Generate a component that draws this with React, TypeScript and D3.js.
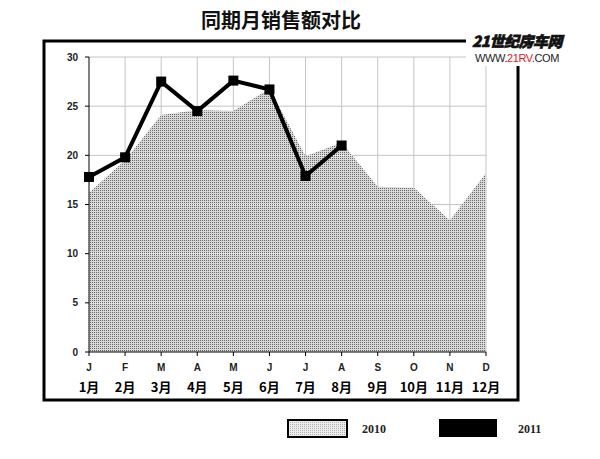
import React from "react";
import * as d3 from "d3";

const monthLetters = ["J", "F", "M", "A", "M", "J", "J", "A", "S", "O", "N", "D"];
const monthLabels = ["1月", "2月", "3月", "4月", "5月", "6月", "7月", "8月", "9月", "10月", "11月", "12月"];
const sales2010 = [16.2, 19.5, 24.1, 24.6, 24.5, 26.8, 19.9, 21.3, 16.8, 16.7, 13.4, 18.2];
const sales2011 = [17.8, 19.8, 27.5, 24.5, 27.6, 26.7, 17.9, 21.0];
const yTicks = [0, 5, 10, 15, 20, 25, 30];

const W = 600;
const H = 459;
const plot = { left: 89, right: 486, top: 57, bottom: 352 };

const App = () => {
  const x = d3.scaleLinear().domain([0, 11]).range([plot.left, plot.right]);
  const y = d3.scaleLinear().domain([0, 30]).range([plot.bottom, plot.top]);

  const areaPath = d3
    .area<number>()
    .x((_, i) => x(i))
    .y0(y(0))
    .y1((d) => y(d))(sales2010) as string;

  const linePath = d3
    .line<number>()
    .x((_, i) => x(i))
    .y((d) => y(d))(sales2011) as string;

  const sans = "Arial, 'Liberation Sans', sans-serif";
  const cjk = "'Noto Sans CJK SC', sans-serif";

  return (
    <svg
      width={W}
      height={H}
      style={{ position: "absolute", left: 0, top: 0, background: "#fff" }}
    >
      <defs>
        <pattern id="dots" width="2" height="2" patternUnits="userSpaceOnUse">
          <rect width="2" height="2" fill="#d8d8d8" />
          <rect width="1" height="1" fill="#6a6a6a" />
        </pattern>
        <pattern id="dotsLight" width="2" height="2" patternUnits="userSpaceOnUse">
          <rect width="2" height="2" fill="#ececec" />
          <rect width="1" height="1" fill="#b0b0b0" />
        </pattern>
        <clipPath id="areaClip">
          <path d={areaPath} />
        </clipPath>
      </defs>

      {/* title */}
      <text
        x={281}
        y={28}
        textAnchor="middle"
        fontFamily={cjk}
        fontWeight="bold"
        fontSize={20}
        fill="#111"
      >
        同期月销售额对比
      </text>

      {/* frame */}
      <rect x={44} y={41} width={474} height={359} fill="none" stroke="#000" strokeWidth={3} />

      {/* grid */}
      <g stroke="#c4c4c4" strokeWidth={1}>
        {yTicks.slice(1).map((t) => (
          <line key={"h" + t} x1={plot.left} x2={plot.right} y1={y(t)} y2={y(t)} />
        ))}
        {monthLetters.map((_, i) =>
          i === 0 ? null : (
            <line key={"v" + i} x1={x(i)} x2={x(i)} y1={plot.top} y2={plot.bottom} />
          )
        )}
      </g>

      {/* 2010 area */}
      <path d={areaPath} fill="url(#dots)" />
      <g clipPath="url(#areaClip)" stroke="#f4f4f4" strokeWidth={1} strokeDasharray="1,1">
        {yTicks.slice(1).map((t) => (
          <line key={"hw" + t} x1={plot.left} x2={plot.right} y1={y(t)} y2={y(t)} />
        ))}
      </g>

      {/* axes */}
      <g stroke="#000" strokeWidth={1}>
        <line x1={plot.left} x2={plot.left} y1={plot.top} y2={plot.bottom} />
        <line x1={plot.left} x2={plot.right} y1={plot.bottom} y2={plot.bottom} />
        {yTicks.map((t) => (
          <line key={"yt" + t} x1={plot.left - 4} x2={plot.left} y1={y(t)} y2={y(t)} />
        ))}
        {monthLetters.map((_, i) => (
          <line key={"xt" + i} x1={x(i)} x2={x(i)} y1={plot.bottom} y2={plot.bottom + 4} />
        ))}
      </g>
      {yTicks.map((t) => (
        <text
          key={"yl" + t}
          x={78}
          y={y(t) + 3.5}
          textAnchor="end"
          fontFamily={sans}
          fontWeight="bold"
          fontSize={10}
          fill="#222"
        >
          {t}
        </text>
      ))}
      {monthLetters.map((m, i) => (
        <text
          key={"ml" + i}
          x={x(i)}
          y={371}
          textAnchor="middle"
          fontFamily={sans}
          fontWeight="bold"
          fontSize={10}
          fill="#222"
        >
          {m}
        </text>
      ))}
      {monthLabels.map((m, i) => (
        <text
          key={"mc" + i}
          x={x(i)}
          y={392}
          textAnchor="middle"
          fontFamily={cjk}
          fontWeight="bold"
          fontSize={13}
          fill="#000"
        >
          {m}
        </text>
      ))}

      {/* 2011 line */}
      <path d={linePath} fill="none" stroke="#000" strokeWidth={4} strokeLinejoin="miter" />
      {sales2011.map((v, i) => (
        <rect key={"mk" + i} x={x(i) - 5} y={y(v) - 5} width={10} height={10} fill="#000" />
      ))}

      {/* logo */}
      <rect x={466} y={30} width={102} height={36} fill="#fff" />
      <text
        x={517}
        y={47}
        textAnchor="middle"
        fontFamily={cjk}
        fontWeight={900}
        fontStyle="italic"
        fontSize={15}
        fill="#111"
        stroke="#111"
        strokeWidth={0.6}
        letterSpacing={-0.5}
      >
        21世纪房车网
      </text>
      <text
        x={517}
        y={62}
        textAnchor="middle"
        fontFamily={sans}
        fontSize={11}
        fill="#222"
        letterSpacing={-0.4}
      >
        WWW.<tspan fill="#e0201b">21RV</tspan>.COM
      </text>

      {/* legend */}
      <rect x={288} y={420} width={59} height={17} fill="url(#dotsLight)" stroke="#000" strokeWidth={2} />
      <text x={362} y={433} fontFamily="'Liberation Serif', 'Times New Roman', serif" fontWeight="bold" fontSize={12} fill="#222">
        2010
      </text>
      <rect x={439} y={419} width={58} height={18} fill="#000" />
      <text x={518} y={433} fontFamily="'Liberation Serif', 'Times New Roman', serif" fontWeight="bold" fontSize={12} fill="#222">
        2011
      </text>
    </svg>
  );
};

export default App;
